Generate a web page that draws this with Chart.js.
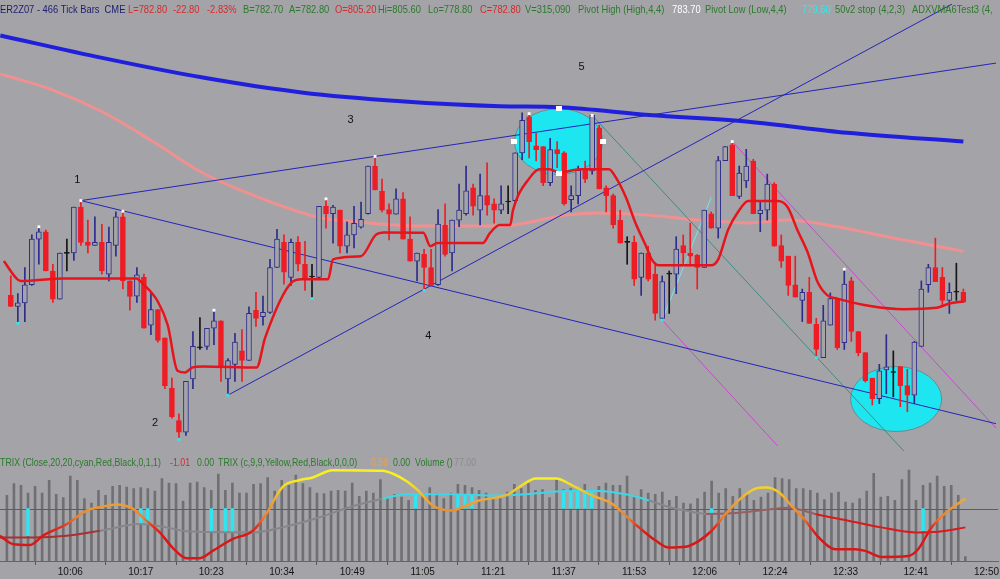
<!DOCTYPE html>
<html>
<head>
<meta charset="utf-8">
<script src="https://cdn.jsdelivr.net/npm/chart.js@4.4.0/dist/chart.umd.min.js"></script>
<style>
html, body { margin: 0; padding: 0; background: #a4a4a8; }
#wrap { position: relative; width: 1000px; height: 579px; overflow: hidden; }
#top { position: absolute; left: 0; top: 0; }
#bot { position: absolute; left: 0; top: 455px; }
</style>
</head>
<body>
<div id="wrap">
<canvas id="top" width="1000" height="455"></canvas>
<canvas id="bot" width="1000" height="124"></canvas>
</div>
<script>
// --- price bars (466 tick bars, index 0..136) ---
const opens = [782.81,782.50,782.60,783.11,784.40,784.61,783.50,782.70,784.00,784.01,785.31,784.31,784.22,784.31,783.41,784.22,785.03,783.22,782.79,783.32,
781.97,782.41,781.61,780.19,779.27,778.94,780.45,781.33,781.37,781.88,782.09,780.45,780.86,781.24,780.97,782.39,782.21,782.33,783.60,784.31,
783.32,784.31,783.69,783.33,783.32,785.33,785.12,785.22,784.20,784.52,784.74,785.12,786.47,785.75,785.24,785.11,785.54,784.40,783.78,783.97,
783.60,783.11,784.80,784.01,784.94,785.12,785.85,785.22,785.63,785.40,785.22,785.45,785.49,786.84,787.86,787.04,787.02,786.00,786.93,786.84,
785.52,785.63,786.37,786.33,787.55,785.85,785.63,784.94,784.31,784.31,783.32,784.01,783.41,782.16,783.41,783.41,784.22,784.01,783.94,783.60,
785.12,784.71,786.62,787.07,785.61,786.05,786.61,785.12,785.22,785.96,784.22,783.92,783.11,782.67,782.90,781.99,781.05,781.97,782.72,781.47,
783.22,781.79,781.19,780.47,779.89,780.70,780.63,780.80,780.26,779.99,781.37,783.11,783.60,783.32,782.67,782.90,782.90];
const highs = [783.36,782.86,783.60,784.52,784.75,784.66,783.69,784.01,784.40,785.31,785.49,784.94,785.03,784.82,784.74,785.17,785.19,783.22,783.60,783.41,
782.90,782.41,781.61,780.47,779.46,780.38,781.79,782.18,781.88,782.39,782.09,781.02,781.74,781.84,782.49,782.90,782.79,783.83,784.68,784.52,
784.40,784.47,784.34,783.69,785.33,785.54,785.36,785.22,784.89,785.33,785.45,786.47,786.74,786.10,785.40,785.82,785.72,785.03,784.01,784.11,
784.11,785.24,785.40,784.94,785.96,786.47,785.96,786.24,786.56,785.54,785.91,785.91,786.84,787.97,787.95,787.39,787.02,787.25,787.16,786.88,
785.91,786.47,786.61,787.90,787.62,785.91,785.68,785.22,784.47,784.49,784.01,784.20,783.74,783.36,783.50,784.47,784.52,784.85,783.97,785.22,
785.17,786.74,787.02,787.16,786.47,786.94,786.66,785.49,786.24,786.00,784.52,783.92,783.92,782.99,783.32,782.16,782.53,782.88,782.72,783.55,
783.32,781.79,781.19,780.47,780.86,781.70,781.24,780.80,780.72,781.51,783.22,783.69,784.43,783.60,783.16,783.72,782.99];
const lows = [782.50,782.02,782.07,783.09,783.69,783.50,782.61,782.70,783.50,783.80,784.22,784.01,784.22,783.41,783.22,783.92,782.99,782.39,782.61,781.88,
781.70,781.49,780.17,779.34,778.74,778.85,780.17,781.28,781.28,781.42,780.38,779.99,780.38,780.38,780.97,781.93,781.97,782.30,783.60,783.13,
783.09,783.50,782.95,782.72,783.27,784.71,784.29,784.01,784.01,784.15,784.71,785.11,785.79,785.17,784.38,785.11,784.40,783.78,783.22,782.95,
783.09,783.09,783.92,783.50,784.75,785.08,785.08,784.80,785.08,784.85,785.12,785.12,785.40,786.65,786.70,786.61,785.91,785.91,786.42,785.36,
785.17,785.40,786.00,786.24,785.82,785.17,784.71,784.29,783.69,783.09,782.81,783.22,782.11,782.11,782.30,782.86,783.69,783.64,782.99,783.60,
784.71,784.43,786.62,785.63,785.55,785.86,785.12,784.61,784.94,784.20,783.60,782.81,782.76,782.07,782.02,781.05,781.05,781.97,781.28,781.28,
781.51,781.10,780.36,779.71,779.75,780.03,779.94,779.66,779.52,779.75,781.37,782.90,783.20,782.49,782.30,782.67,782.61];
const closes = [782.50,782.60,783.11,784.40,784.61,783.50,782.70,784.01,784.00,785.31,784.31,784.22,784.31,783.50,784.31,785.03,783.22,782.78,783.39,781.88,
782.41,781.54,780.26,779.38,778.94,780.38,781.37,781.33,781.88,782.09,780.77,780.97,781.49,780.97,782.30,782.16,782.33,783.60,784.40,783.47,
784.31,783.69,783.27,783.33,785.33,785.12,785.31,784.20,784.52,784.85,784.96,786.47,785.79,785.22,785.11,785.54,784.40,783.78,784.01,783.60,
783.09,784.83,783.97,784.94,785.22,785.77,785.33,785.63,785.36,785.22,785.40,785.45,786.84,787.76,787.16,786.93,786.00,786.93,786.82,785.40,
785.63,786.35,786.10,787.90,785.82,785.63,784.80,784.29,784.31,783.27,784.01,783.27,782.30,783.20,783.41,784.12,784.01,783.92,783.60,785.22,
784.71,786.62,787.02,785.63,786.27,786.47,785.12,785.22,785.96,784.20,783.78,783.09,782.76,782.90,782.02,781.28,782.09,782.72,781.33,783.13,
781.79,781.19,780.40,779.89,780.68,780.79,780.63,780.26,779.99,781.49,782.99,783.60,783.20,782.67,782.90,782.90,782.62];
const volumes = [1170,1381,1350,1211,1332,1211,1440,1188,1129,1512,1440,1111,1031,1260,1170,1332,1350,1319,1291,1309,
1291,1247,1471,1391,1381,1067,1391,1409,1309,1260,1548,1260,1391,1211,1211,1368,1381,1489,1247,1440,
1350,1530,1381,1309,1211,1201,1247,1260,1247,1391,1152,1247,1211,1453,1129,1188,1139,1080,1152,1188,
1309,1201,1111,1211,1368,1350,1309,1260,1211,1129,1111,1229,1368,1291,1381,1260,1273,1129,1453,1273,
1291,1260,1368,1247,1332,1391,1350,1350,1512,1170,1273,1211,1188,1229,1080,1152,1031,1021,1111,1229,
1427,1211,1291,1152,1291,1188,1080,1139,1211,1489,1471,1453,1291,1291,1260,1211,1093,1211,1229,1049,
1031,1111,1247,1561,1139,1152,1080,1453,1620,1080,1350,1391,1512,1332,1350,1170,77];

// --- overlays (x = bar index) ---
const stopX = [-1,0.9,1.4,7.5,17.9,18.9,21.0,22.4,23.8,24.9,25.9,27.4,35.1,36.3,40.1,41.5,45.3,46.0,50.0,52.1,53.3,58.9,59.9,60.9,67.4,68.4,69.8,71.3,71.7,74.1,
75.5,76.9,78.3,81.2,85.4,86.4,87.8,89.2,90.7,91.5,92.5,100.0,101.0,102.4,103.8,105.3,109.5,110.9,112.3,113.8,115.2,116.6,118.0,122.7,127.5,132.2,134.0,136.0];
const stopY = [783.78,783.27,783.22,783.29,783.29,783.13,782.63,781.97,780.68,780.63,780.77,780.80,780.77,781.61,783.18,783.27,783.27,783.83,783.92,784.52,784.59,784.58,784.20,784.29,784.29,784.57,784.80,784.80,785.22,786.14,
786.38,786.38,786.28,786.38,786.38,786.14,785.59,784.85,784.20,783.83,783.66,783.66,783.83,784.66,785.16,785.48,785.48,785.31,784.66,784.01,783.18,782.81,782.72,782.51,782.42,782.46,782.58,782.64];
const maX = [-1.5,6.1,13.2,20.3,27.4,34.4,43.9,50.0,58.1,69.8,79.3,84.0,91.1,98.2,105.3,110.9,118.0,125.1,132.2,136.0];
const maY = [789.07,788.61,787.99,787.16,786.27,785.66,785.02,784.88,784.77,784.77,785.08,785.14,785.08,784.94,784.86,784.94,784.75,784.47,784.20,784.06];
const longMaX = [-1.5,13.2,27.4,41.5,55.7,69.8,78.3,91.1,105.3,119.4,136.0];
const longMaY = [790.16,789.52,788.97,788.55,788.30,788.16,788.13,787.91,787.72,787.41,787.16];

const pivotHighBars = [4,10,16,29,45,52,74,83,103,119];
const pivotLowBars = [1,24,31,43,59,93,115];

// trend lines: [[x1, y1], [x2, y2]]
const lineA = [[10,785.49],[140.7,789.38]];
const lineB = [[10,785.49],[140.7,779.18]];
const lineC = [[31,779.99],[134.4,791.05]];
const lineTeal = [[83,787.90],[127.5,778.41]];
const lineViolet1 = [[103,787.16],[140.7,779.05]];
const lineViolet2 = [[93,782.11],[109.5,778.55]];
const lineCyan = [[93,782.11],[100,785.58]];

// highlighted zones: [centre bar, centre price, half width (bars), half height (price)]
const zones = [[78.2,787.16,6.3,0.93],[126.4,779.88,6.5,0.92]];

const noteText = ['1','2','3','4','5'];
const noteX = [9.5,20.6,48.5,59.6,81.5];
const noteY = [786.08,779.19,787.77,781.66,789.27];

// --- TRIX panel ---
const trix1X = [-1,3.7,8.5,13.2,18.9,22.7,25.5,34.9,39.1,44.4,48.6,53.3,56.7,62.8,69.8,74.5,79.3,84.0,87.8,91.1,94.3,96.3,99.2,102.9,107.7,110.9,114.7,119.4,124.1,128.9,132.2,136.0];
const trix1Y = [-1.55,-1.55,-1.46,-1.19,-0.83,-1.01,-1.22,-1.28,-1.01,-0.47,0.07,0.52,0.76,0.76,0.70,0.79,0.94,0.94,0.76,0.43,0.04,-0.11,-0.29,-0.25,-0.07,0.04,-0.29,-0.65,-1.01,-1.28,-1.24,-1.01];
const trix2X = [-1,0.9,3.3,5.1,8.5,11.3,13.2,15.6,17.9,19.8,21.7,23.5,25.5,27.4,29.2,32.0,34.9,36.8,39.1,41.5,43.4,46.2,53.3,55.7,58.1,60.4,63.2,65.2,67.0,69.8,
71.3,72.7,75.1,77.9,80.2,83.0,85.9,87.8,89.7,92.1,93.9,96.3,98.2,100.0,102.0,103.8,106.2,107.7,109.5,111.3,113.3,115.2,117.6,120.4,121.8,124.1,127.9,129.3,131.2,133.6,136.0];
const trix2Y = [-1.46,-1.91,-1.95,-1.46,-0.83,-0.11,0.07,0.22,-0.02,-0.65,-1.28,-2.09,-2.66,-2.66,-2.27,-1.64,-1.19,-0.29,1.15,1.51,1.66,2.05,2.02,1.69,1.06,0.16,-0.11,0.16,0.43,0.61,
0.79,1.15,1.61,1.61,1.24,0.70,0.25,-0.38,-1.01,-1.73,-2.09,-2.05,-1.73,-1.19,-0.29,0.43,1.06,1.12,0.88,0.16,-0.65,-1.55,-2.18,-2.18,-2.27,-2.59,-2.54,-2.18,-1.01,-0.11,0.52];
const histBars = [3,19,20,29,31,32,58,64,65,66,79,80,81,82,83,100,130];
const histVals = [-1.46,-0.81,-0.81,-1.24,-1.24,-1.24,0.76,0.70,0.70,0.70,0.94,0.94,0.94,0.94,0.94,-0.22,-1.19];

const tickBars = [9,19,29,39,49,59,69,79,89,99,109,119,129,139];
const timeLabels = ['10:06','10:17','10:23','10:34','10:49','11:05','11:21','11:37','11:53','12:06','12:24','12:33','12:41','12:50'];

// axis ranges
const xMin = -0.977, xMax = 140.66;
const priceMin = 778.41, priceMax = 791.05;

const BG = '#a4a4a8';
const UP = '#2c2c8c';
const DOWN = '#ee1c24';
const GREEN = '#2a7a2a';
const RED_TXT = '#d42a2a';
const FONT = '"Liberation Sans", Arial, sans-serif';

function pts(xs, ys) {
    return xs.map((x, i) => ({ x: x, y: ys[i] }));
}

function candleColor(i) {
    if (closes[i] > opens[i]) return UP;
    if (closes[i] < opens[i]) return DOWN;
    return '#151515';
}

function trendLine(seg, color, width, order) {
    return {
        type: 'line',
        data: seg.map(p => ({ x: p[0], y: p[1] })),
        borderColor: color,
        borderWidth: width,
        pointRadius: 0,
        order: order
    };
}

function curve(xs, ys, color, width, order) {
    return {
        type: 'line',
        data: pts(xs, ys),
        borderColor: color,
        borderWidth: width,
        pointRadius: 0,
        cubicInterpolationMode: 'monotone',
        clip: 4,
        order: order
    };
}

// texte d'en-tête, un peu resserré horizontalement comme l'original
function drawHeader(ctx, pieces, baseline, squeeze) {
    ctx.save();
    ctx.font = '11px ' + FONT;
    ctx.textAlign = 'left';
    ctx.textBaseline = 'alphabetic';
    ctx.scale(squeeze, 1);
    pieces.forEach(h => {
        ctx.fillStyle = h[2];
        ctx.fillText(h[0], h[1] / squeeze, baseline);
    });
    ctx.restore();
}

const topHeader = [
    ['ER2Z07 - 466 Tick Bars  CME', 0, '#1c1c70'],
    ['L=782.80', 128, RED_TXT], ['-22.80', 173, RED_TXT], ['-2.83%', 207, RED_TXT],
    ['B=782.70', 243, GREEN], ['A=782.80', 289, GREEN], ['O=805.20', 335, RED_TXT],
    ['Hi=805.60', 378, GREEN], ['Lo=778.80', 428, GREEN], ['C=782.80', 480, RED_TXT],
    ['V=315,090', 525, GREEN], ['Pivot High (High,4,4)', 578, GREEN], ['783.70', 672, '#ffffff'],
    ['Pivot Low (Low,4,4)', 705, GREEN], ['779.60', 802, '#30e8f0'], ['50v2 stop (4,2,3)', 835, GREEN],
    ['ADXVMA6Test3 (4,', 912, GREEN]
];
const botHeader = [
    ['TRIX (Close,20,20,cyan,Red,Black,0,1,1)', 0, GREEN], ['-1.01', 170, RED_TXT], ['0.00', 197, GREEN],
    ['TRIX (c,9,9,Yellow,Red,Black,0,0,0)', 218, GREEN], ['0.59', 371, '#f0a040'], ['0.00', 393, GREEN],
    ['Volume ()', 415, GREEN], ['77.00', 454, '#8c8c8c']
];

const drawingsPlugin = {
    id: 'drawings',
    beforeDatasetsDraw(chart) {
        const { ctx, scales: { x, y } } = chart;
        ctx.save();
        zones.forEach(z => {
            const cx = x.getPixelForValue(z[0]), cy = y.getPixelForValue(z[1]);
            const rx = x.getPixelForValue(z[0] + z[2]) - cx;
            const ry = cy - y.getPixelForValue(z[1] + z[3]);
            ctx.beginPath();
            ctx.ellipse(cx, cy, rx, ry, 0, 0, Math.PI * 2);
            ctx.fillStyle = '#1ee6f0';
            ctx.fill();
            ctx.strokeStyle = '#6a8a90';
            ctx.lineWidth = 1;
            ctx.stroke();
        });
        ctx.restore();
    },
    afterDatasetsDraw(chart) {
        const { ctx, scales: { x, y } } = chart;
        ctx.save();
        // poignées de sélection de la première zone
        const z = zones[0];
        const cx = x.getPixelForValue(z[0]), cy = y.getPixelForValue(z[1]);
        const rx = x.getPixelForValue(z[0] + z[2]) - cx;
        const ry = cy - y.getPixelForValue(z[1] + z[3]);
        ctx.fillStyle = '#ffffff';
        [[cx - rx, cy], [cx + rx, cy], [cx, cy - ry], [cx, cy + ry]].forEach(p => {
            ctx.fillRect(Math.round(p[0]) - 3, Math.round(p[1]) - 3, 6, 5);
        });
        // numéros de vagues
        ctx.font = '11px ' + FONT;
        ctx.fillStyle = '#111111';
        ctx.textAlign = 'center';
        ctx.textBaseline = 'middle';
        noteText.forEach((t, i) => ctx.fillText(t, x.getPixelForValue(noteX[i]), y.getPixelForValue(noteY[i])));
        ctx.restore();
        drawHeader(ctx, topHeader, 13, 0.85);
    }
};

// Créer le panneau des prix
const datasets = [
    curve(longMaX, longMaY, '#2020dc', 4, 12),
    curve(maX, maY, '#f09090', 3, 11),
    trendLine(lineA, '#2424b8', 1, 10),
    trendLine(lineB, '#2424b8', 1, 10),
    trendLine(lineC, '#2424b8', 1, 10),
    trendLine(lineTeal, '#3f8a86', 1, 10),
    trendLine(lineViolet1, '#c848d0', 1, 10),
    trendLine(lineViolet2, '#c848d0', 1, 10),
    trendLine(lineCyan, '#70e8f0', 1, 10),
    {
        type: 'bar',
        data: highs.map((h, i) => ({ x: i, y: [lows[i], h] })),
        backgroundColor: highs.map((h, i) => candleColor(i)),
        barThickness: 1,
        grouped: false,
        order: 6
    },
    {
        type: 'bar',
        data: closes.map((c, i) => ({ x: i, y: [opens[i], c] })),
        backgroundColor: closes.map((c, i) => closes[i] > opens[i] ? BG : candleColor(i)),
        borderColor: closes.map((c, i) => candleColor(i)),
        borderWidth: 1,
        borderSkipped: false,
        minBarLength: 1,
        barThickness: 5,
        grouped: false,
        order: 5
    },
    curve(stopX, stopY, '#e8141c', 2.5, 3),
    {
        type: 'line',
        data: pivotHighBars.map(i => ({ x: i, y: highs[i] })),
        showLine: false,
        pointStyle: 'rect',
        pointRadius: 2,
        pointBackgroundColor: '#ffffff',
        pointBorderWidth: 0,
        order: 1
    },
    {
        type: 'line',
        data: pivotLowBars.map(i => ({ x: i, y: lows[i] })),
        showLine: false,
        pointStyle: 'rect',
        pointRadius: 2,
        pointBackgroundColor: '#30e8f0',
        pointBorderWidth: 0,
        order: 1
    }
];

new Chart(document.getElementById('top'), {
    type: 'bar',
    data: { datasets: datasets },
    options: {
        responsive: false,
        animation: false,
        devicePixelRatio: 1,
        events: [],
        layout: { padding: 0 },
        plugins: { legend: { display: false }, tooltip: { enabled: false } },
        scales: {
            x: { type: 'linear', min: xMin, max: xMax, display: false, offset: false },
            y: { type: 'linear', min: priceMin, max: priceMax, display: false }
        }
    },
    plugins: [drawingsPlugin]
});

// --- panneau TRIX / volume ---
function trix1Color(x) {
    if (x < 9) return '#a83030';
    if (x < 51) return '#87878b';
    if (x < 88) return '#3ad8e8';
    if (x < 97) return '#87878b';
    if (x < 112) return '#946060';
    return '#dc1818';
}

const panelPlugin = {
    id: 'panel',
    afterDatasetDraw(chart, args) {
        if (args.index !== 0) return;
        const { ctx, chartArea, scales: { yt } } = chart;
        const y0 = Math.round(yt.getPixelForValue(0)) + 0.5;
        ctx.save();
        ctx.strokeStyle = '#2e7e2e';
        ctx.lineWidth = 1;
        ctx.beginPath();
        ctx.moveTo(chartArea.left, y0);
        ctx.lineTo(chartArea.right, y0);
        ctx.stroke();
        ctx.restore();
    },
    afterDraw(chart) {
        drawHeader(chart.ctx, botHeader, 11, 0.8);
    }
};

new Chart(document.getElementById('bot'), {
    type: 'bar',
    data: {
        datasets: [
            {
                type: 'bar',
                yAxisID: 'yv',
                data: volumes.map((v, i) => ({ x: i, y: v })),
                backgroundColor: '#707074',
                barThickness: 2,
                grouped: false,
                order: 6
            },
            {
                type: 'bar',
                yAxisID: 'yt',
                data: histBars.map((b, i) => ({ x: b, y: histVals[i] })),
                backgroundColor: '#30e4f0',
                barThickness: 3,
                grouped: false,
                order: 5
            },
            {
                type: 'line',
                yAxisID: 'yt',
                data: pts(trix1X, trix1Y),
                borderWidth: 2,
                pointRadius: 0,
                cubicInterpolationMode: 'monotone',
                segment: { borderColor: c => trix1Color(c.p0.parsed.x) },
                order: 3
            },
            {
                type: 'line',
                yAxisID: 'yt',
                data: pts(trix2X, trix2Y),
                borderWidth: 2.5,
                pointRadius: 0,
                cubicInterpolationMode: 'monotone',
                borderColor: function (context) {
                    const ch = context.chart;
                    if (!ch.chartArea) return '#e08030';
                    const s = ch.scales.yt;
                    const g = ch.ctx.createLinearGradient(0, s.getPixelForValue(1.6), 0, s.getPixelForValue(-1.4));
                    g.addColorStop(0, '#f8f020');
                    g.addColorStop(0.2, '#f2cc2a');
                    g.addColorStop(0.4, '#f0a434');
                    g.addColorStop(0.7, '#e88030');
                    g.addColorStop(0.85, '#e03420');
                    g.addColorStop(1, '#d81818');
                    return g;
                },
                order: 2
            }
        ]
    },
    options: {
        responsive: false,
        animation: false,
        devicePixelRatio: 1,
        events: [],
        layout: { padding: 0 },
        plugins: { legend: { display: false }, tooltip: { enabled: false } },
        scales: {
            x: {
                type: 'linear',
                min: xMin,
                max: xMax,
                offset: false,
                afterBuildTicks: axis => { axis.ticks = tickBars.map(v => ({ value: v })); },
                ticks: {
                    autoSkip: false,
                    maxRotation: 0,
                    padding: 1,
                    color: '#151515',
                    font: { size: 10, family: FONT },
                    callback: v => timeLabels[tickBars.indexOf(v)]
                },
                grid: { drawOnChartArea: false, drawTicks: true, tickLength: 4, color: '#555555' },
                border: { color: '#e03030', width: 1 }
            },
            yv: { type: 'linear', min: 0, max: 1890, display: false },
            yt: { type: 'linear', min: -2.81, max: 2.865, display: false }
        }
    },
    plugins: [panelPlugin]
});
</script>
</body>
</html>
